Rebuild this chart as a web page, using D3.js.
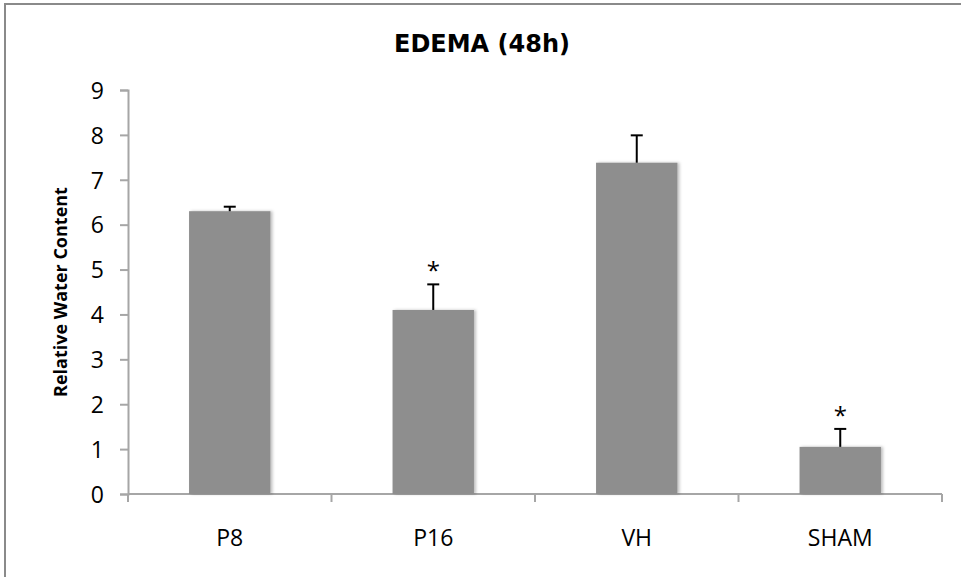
<!DOCTYPE html>
<html>
  <head>
    <meta charset="UTF-8" />
    <title>Edema 48h</title>
    <script src="https://d3js.org/d3.v7.min.js"></script>
    <style>
      * { margin: 0; padding: 0; box-sizing: border-box; }
      body { background: #ffffff; }
      svg { display: block; }
      .tick-label { font-family: "Open Sans", sans-serif; font-size: 23px; fill: #000; }
    </style>
  </head>
  <body>
    <svg id="chart" width="961" height="577"></svg>
  </body>
  <script>
    // data
    const categories = ["P8", "P16", "VH", "SHAM"];
    const values = [6.3, 4.1, 7.38, 1.05];
    const errors = [0.1, 0.57, 0.61, 0.4];
    const significant = [false, true, false, true];
    const yTicks = [0, 1, 2, 3, 4, 5, 6, 7, 8, 9];

    const svg = d3.select("#chart");
    const plotLeft = 128, plotRight = 942, plotTop = 90, plotBottom = 494;

    // outer frame
    svg.append("rect")
      .attr("x", 5).attr("y", 4)
      .attr("width", 970).attr("height", 590)
      .attr("fill", "none")
      .attr("stroke", "#8a8a8a")
      .attr("stroke-width", 2);

    const x = d3.scaleBand()
      .domain(categories)
      .range([plotLeft, plotRight])
      .paddingInner(0.6)
      .paddingOuter(0.3);

    const y = d3.scaleLinear().domain([0, 9]).range([plotBottom, plotTop]);

    // title
    svg.append("text")
      .attr("x", 482).attr("y", 52)
      .attr("text-anchor", "middle")
      .style("font-family", "DejaVu Sans, sans-serif")
      .style("font-weight", "bold")
      .style("font-size", "24px")
      .text("EDEMA (48h)");

    // y axis
    const yAxis = svg.append("g")
      .attr("transform", `translate(${plotLeft},0)`)
      .call(d3.axisLeft(y).tickValues(yTicks).tickSize(8).tickPadding(16));
    yAxis.select(".domain").attr("stroke", "#a6a6a6").attr("stroke-width", 2);
    yAxis.selectAll(".tick line").attr("stroke", "#a6a6a6").attr("stroke-width", 2);
    yAxis.selectAll(".tick text").attr("class", "tick-label").attr("dy", "0.36em");

    // x axis line and category boundary ticks
    const bounds = d3.range(categories.length + 1).map(i => plotLeft + i * (plotRight - plotLeft) / categories.length);
    svg.append("line")
      .attr("x1", plotLeft).attr("x2", plotRight)
      .attr("y1", plotBottom).attr("y2", plotBottom)
      .attr("stroke", "#a6a6a6").attr("stroke-width", 2);
    svg.selectAll(".xtick")
      .data(bounds)
      .enter().append("line")
      .attr("x1", d => d).attr("x2", d => d)
      .attr("y1", plotBottom).attr("y2", plotBottom + 8)
      .attr("stroke", "#a6a6a6").attr("stroke-width", 2);

    svg.selectAll(".xlabel")
      .data(categories)
      .enter().append("text")
      .attr("class", "tick-label")
      .attr("x", d => x(d) + x.bandwidth() / 2)
      .attr("y", 546)
      .attr("text-anchor", "middle")
      .text(d => d);

    // y label
    svg.append("text")
      .attr("transform", "translate(67,292) rotate(-90)")
      .attr("text-anchor", "middle")
      .style("font-family", "Open Sans, sans-serif")
      .style("font-weight", "bold")
      .style("font-size", "18px")
      .text("Relative Water Content");

    // soft shadow for bars
    const defs = svg.append("defs");
    const f = defs.append("filter").attr("id", "shadow")
      .attr("x", "-10%").attr("y", "-10%").attr("width", "130%").attr("height", "120%");
    f.append("feDropShadow")
      .attr("dx", 2).attr("dy", 0).attr("stdDeviation", 1.5)
      .attr("flood-color", "#000").attr("flood-opacity", 0.25);

    // bars
    svg.selectAll(".bar")
      .data(categories)
      .enter().append("rect")
      .attr("x", d => x(d))
      .attr("y", (d, i) => y(values[i]))
      .attr("width", x.bandwidth())
      .attr("height", (d, i) => y(0) - y(values[i]))
      .attr("fill", "#8e8e8e")
      .attr("filter", "url(#shadow)");

    // error bars (upper only)
    const eb = svg.selectAll(".err")
      .data(categories)
      .enter().append("g")
      .attr("stroke", "#000").attr("stroke-width", 2);
    eb.append("line")
      .attr("x1", d => x(d) + x.bandwidth() / 2)
      .attr("x2", d => x(d) + x.bandwidth() / 2)
      .attr("y1", (d, i) => y(values[i]))
      .attr("y2", (d, i) => y(values[i] + errors[i]));
    eb.append("line")
      .attr("x1", d => x(d) + x.bandwidth() / 2 - 6)
      .attr("x2", d => x(d) + x.bandwidth() / 2 + 6)
      .attr("y1", (d, i) => y(values[i] + errors[i]))
      .attr("y2", (d, i) => y(values[i] + errors[i]));

    // significance stars
    svg.selectAll(".star")
      .data(categories.filter((d, i) => significant[i]))
      .enter().append("text")
      .attr("x", d => x(d) + x.bandwidth() / 2)
      .attr("y", d => {
        const i = categories.indexOf(d);
        return y(values[i] + errors[i]) - 5;
      })
      .attr("text-anchor", "middle")
      .style("font-family", "Open Sans, sans-serif")
      .style("font-size", "24px")
      .text("*");
  </script>
</html>
